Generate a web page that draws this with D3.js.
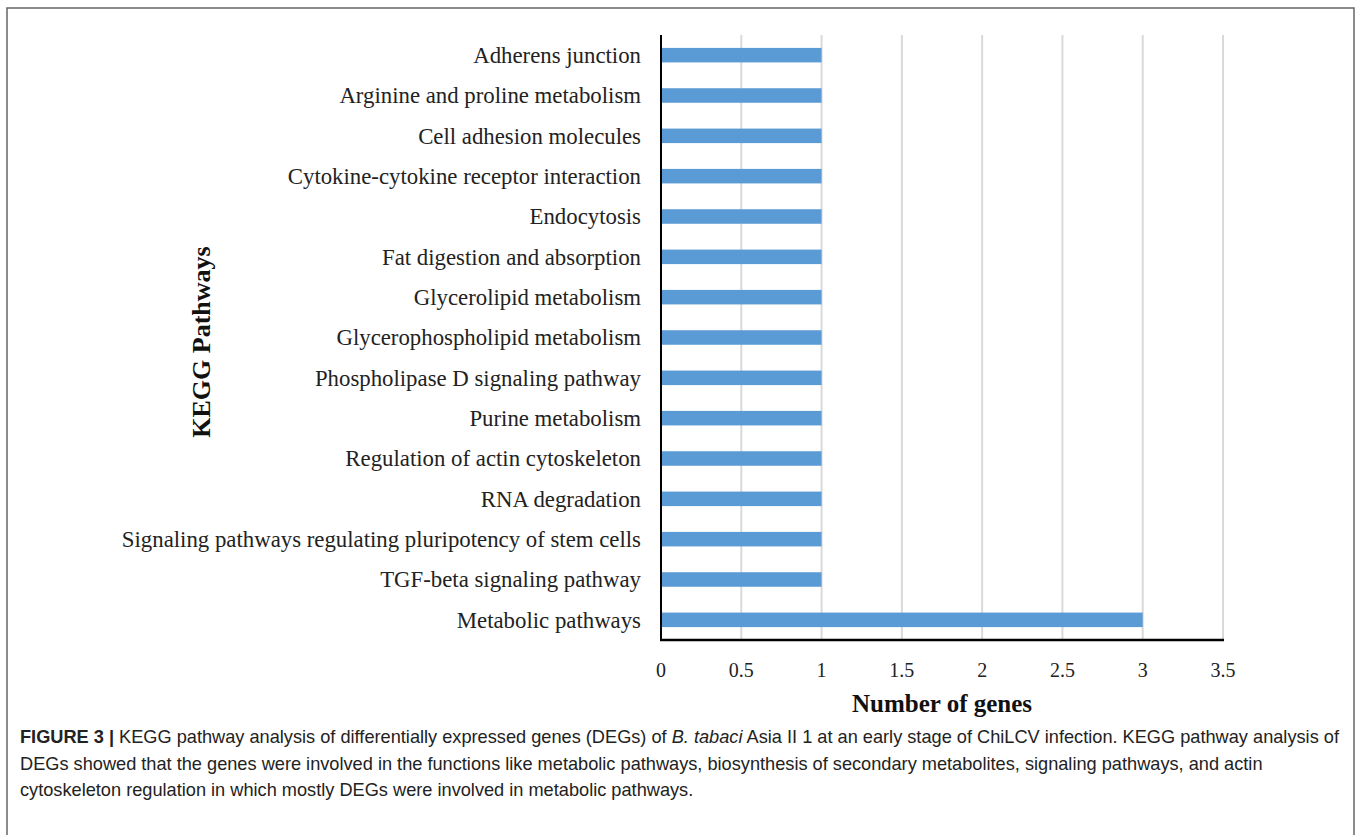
<!DOCTYPE html>
<html>
<head>
<meta charset="utf-8">
<script src="https://cdn.jsdelivr.net/npm/d3@7"></script>
<style>
  body { margin: 0; background: #fff; }
  svg { display: block; }
</style>
</head>
<body>
<div id="chart"></div>
<script>
// KEGG pathways, top to bottom
const pathways = [
  "Adherens junction",
  "Arginine and proline metabolism",
  "Cell adhesion molecules",
  "Cytokine-cytokine receptor interaction",
  "Endocytosis",
  "Fat digestion and absorption",
  "Glycerolipid metabolism",
  "Glycerophospholipid metabolism",
  "Phospholipase D signaling pathway",
  "Purine metabolism",
  "Regulation of actin cytoskeleton",
  "RNA degradation",
  "Signaling pathways regulating pluripotency of stem cells",
  "TGF-beta signaling pathway",
  "Metabolic pathways"
];
const geneCounts = [1, 1, 1, 1, 1, 1, 1, 1, 1, 1, 1, 1, 1, 1, 3];
const xTicks = [0, 0.5, 1, 1.5, 2, 2.5, 3, 3.5];

// parts between | | are set in italics
const captionLines = [
  "KEGG pathway analysis of differentially expressed genes (DEGs) of |B. tabaci| Asia II 1 at an early stage of ChiLCV infection. KEGG pathway analysis of",
  "DEGs showed that the genes were involved in the functions like metabolic pathways, biosynthesis of secondary metabolites, signaling pathways, and actin",
  "cytoskeleton regulation in which mostly DEGs were involved in metabolic pathways."
];

const W = 1357, H = 835;
const plot = {left: 661, right: 1223, top: 35, bottom: 640};
const serif = "'Liberation Serif', 'Times New Roman', serif";
const sans = "'Liberation Sans', Arial, sans-serif";

const data = pathways.map((p, i) => ({pathway: p, count: geneCounts[i]}));

const svg = d3.select("#chart").append("svg")
    .attr("width", W)
    .attr("height", H);

// figure frame
svg.append("rect")
    .attr("x", 7).attr("y", 8)
    .attr("width", 1347).attr("height", 840)
    .attr("fill", "none")
    .attr("stroke", "#666")
    .attr("stroke-width", 1.5);

const x = d3.scaleLinear()
    .domain([0, 3.5])
    .range([plot.left, plot.right]);

const y = d3.scaleBand()
    .domain(pathways)
    .range([plot.top, plot.bottom])
    .paddingInner(0.64)
    .paddingOuter(0.32);

// vertical gridlines
svg.append("g")
    .selectAll("line")
    .data(xTicks.filter(d => d > 0))
    .join("line")
    .attr("x1", d => x(d)).attr("x2", d => x(d))
    .attr("y1", plot.top).attr("y2", plot.bottom)
    .attr("stroke", "#d9d9d9")
    .attr("stroke-width", 2);

// bars
svg.append("g")
    .selectAll("rect")
    .data(data)
    .join("rect")
    .attr("x", x(0))
    .attr("y", d => y(d.pathway))
    .attr("width", d => x(d.count) - x(0))
    .attr("height", y.bandwidth())
    .attr("fill", "#5b9bd5");

// axes lines
svg.append("line")
    .attr("x1", x(0)).attr("x2", x(0))
    .attr("y1", plot.top).attr("y2", plot.bottom + 1)
    .attr("stroke", "#000").attr("stroke-width", 2);
svg.append("line")
    .attr("x1", x(0) - 1).attr("x2", x(3.5) + 1)
    .attr("y1", plot.bottom).attr("y2", plot.bottom)
    .attr("stroke", "#000").attr("stroke-width", 2.5);

// category labels
svg.append("g")
    .selectAll("text")
    .data(pathways)
    .join("text")
    .attr("x", plot.left - 20)
    .attr("y", d => y(d) + y.bandwidth() / 2)
    .attr("dy", "0.35em")
    .attr("text-anchor", "end")
    .style("font-family", serif)
    .style("font-size", "22.8px")
    .attr("fill", "#222")
    .text(d => d);

// x tick labels
svg.append("g")
    .selectAll("text")
    .data(xTicks)
    .join("text")
    .attr("x", d => x(d))
    .attr("y", 670)
    .attr("dy", "0.35em")
    .attr("text-anchor", "middle")
    .style("font-family", serif)
    .style("font-size", "20px")
    .attr("fill", "#222")
    .text(d => d);

// axis titles
svg.append("text")
    .attr("x", (plot.left + plot.right) / 2)
    .attr("y", 703)
    .attr("dy", "0.35em")
    .attr("text-anchor", "middle")
    .style("font-family", serif)
    .style("font-size", "25px")
    .style("font-weight", "bold")
    .attr("fill", "#111")
    .text("Number of genes");

svg.append("text")
    .attr("transform", "translate(201,342) rotate(-90)")
    .attr("dy", "0.35em")
    .attr("text-anchor", "middle")
    .style("font-family", serif)
    .style("font-size", "26px")
    .style("font-weight", "bold")
    .attr("fill", "#111")
    .text("KEGG Pathways");

// caption
const cap = svg.append("g").attr("fill", "#222")
    .style("font-family", sans)
    .style("font-size", "18.2px");

captionLines.forEach((line, i) => {
  const t = cap.append("text")
      .attr("x", 20)
      .attr("y", 743 + i * 26.5);
  if (i === 0) {
    t.append("tspan").style("font-weight", "bold").text("FIGURE 3 | ");
  }
  line.split("|").forEach((part, j) => {
    t.append("tspan")
        .style("font-style", j % 2 === 1 ? "italic" : "normal")
        .text(part);
  });
});
</script>
</body>
</html>
